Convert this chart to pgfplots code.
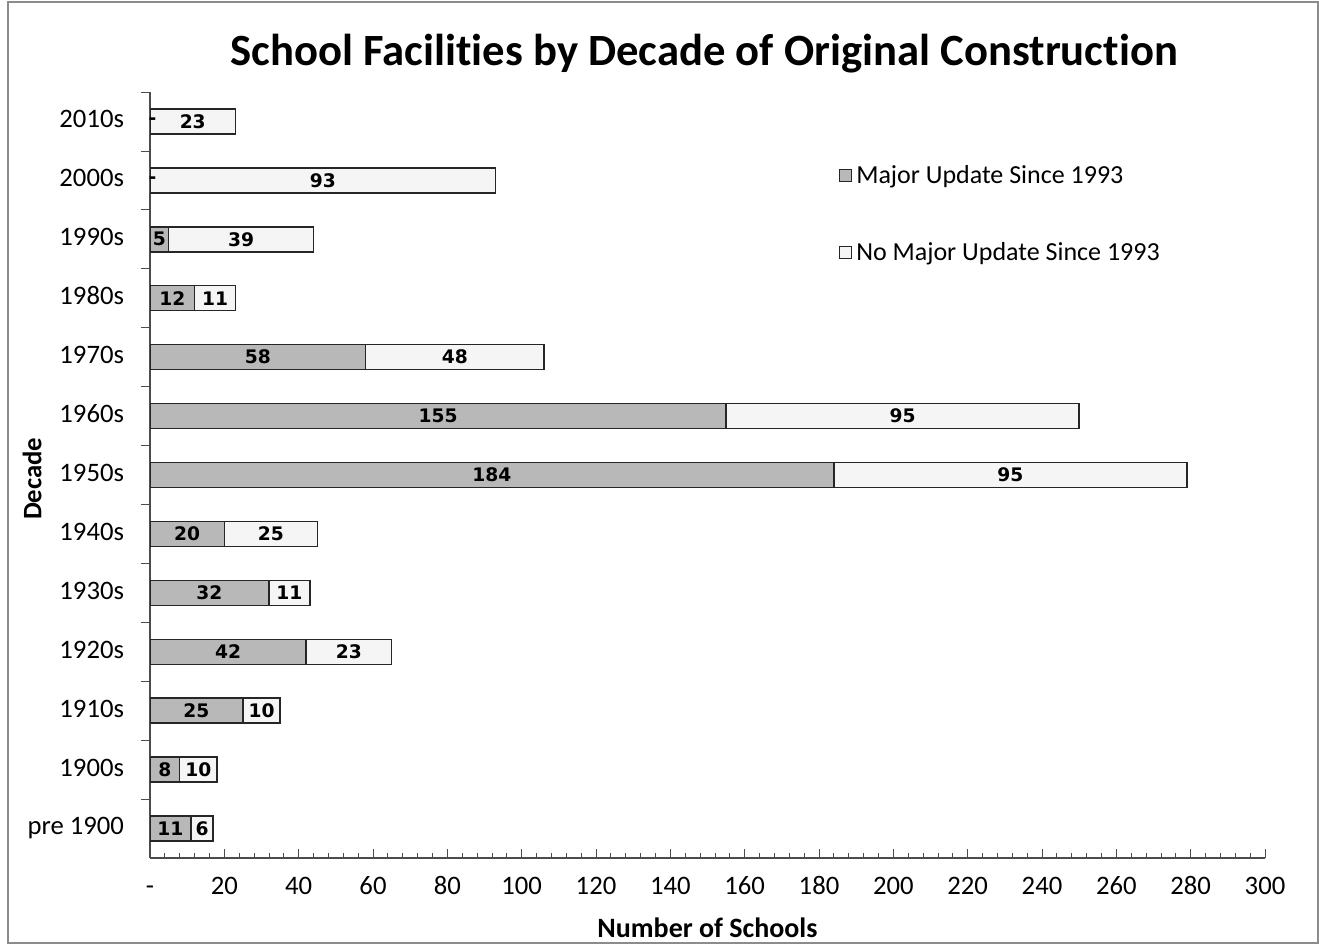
\documentclass[border=0pt]{standalone}
\usepackage{fontspec}
\setmainfont{Carlito}[Ligatures=NoCommon]
\newfontfamily\labfont{DejaVu Sans}
\usepackage{pgfplots}
\pgfplotsset{compat=1.18}
\usepackage{pgfplotstable}

\pgfplotstableread{
y maj no majlab nolab
0 11 6 11 6
1 8 10 8 10
2 25 10 25 10
3 42 23 42 23
4 32 11 32 11
5 20 25 20 25
6 184 95 184 95
7 155 95 155 95
8 58 48 58 48
9 12 11 12 11
10 5 39 5 39
11 0 93 - 93
12 0 23 - 23
}\data

\definecolor{majgray}{gray}{0.72}
\definecolor{nogray}{gray}{0.96}

\pgfplotsset{
  common/.style={
    scale only axis, width=836.25pt, height=574.5pt,
    xmin=0, xmax=300, ymin=-0.5, ymax=12.5,
  }
}

\begin{document}
\begin{tikzpicture}
\useasboundingbox (-112.5pt,-66.75pt) rectangle (876.75pt,643.5pt);
\draw[black!45, line width=0.8pt] (-106.5pt,-63.75pt) rectangle (876pt,642pt);
\begin{axis}[
  common,
  xbar stacked, bar width=18.75pt,
  axis lines*=left,
  axis line style={black!70, line width=0.8pt},
  tick align=inside,
  xtick={0,20,...,300},
  xticklabels={-,20,40,60,80,100,120,140,160,180,200,220,240,260,280,300},
  minor x tick num=4,
  major tick length=7pt, minor tick length=4pt,
  xtick style={black!70, line width=0.6pt},
  ytick={0.5,1.5,...,12.5},
  yticklabels={pre 1900,1900s,1910s,1920s,1930s,1940s,1950s,1960s,1970s,1980s,1990s,2000s,2010s},
  ytick style={black!70, line width=0.6pt, xshift=-7pt},
  typeset ticklabels with strut,
  y tick label style={yshift=-22.09pt, xshift=-16pt, font=\fontsize{20}{24}\selectfont},
  x tick label style={yshift=-7pt, font=\fontsize{20}{24}\selectfont},
  xlabel={Number of Schools},
  xlabel style={at={(axis description cs:0.5,-0.0914)}, anchor=center, font=\bfseries\fontsize{21}{24}\selectfont},
  ylabel={Decade},
  ylabel style={at={(axis description cs:-0.1058,0.495)}, anchor=center, rotate=0, font=\bfseries\fontsize{20}{24}\selectfont},
  title={School Facilities by Decade of Original Construction},
  title style={at={(axis description cs:0.497,1.04)}, anchor=center, font=\bfseries\fontsize{33.5}{38}\selectfont},
  legend style={at={(0.618,0.91)}, anchor=north west, draw=none, fill=none,
    font=\fontsize{19.5}{22}\selectfont, row sep=37pt, inner sep=0pt},
  legend cell align=left,
  legend image code/.code={\draw[#1, line width=0.7pt] (0pt,-4.5pt) rectangle (9pt,4.5pt);},
  legend style={nodes={inner sep=3pt}},
]
\addplot[fill=majgray, draw=black!85, line width=1.1pt]
  table[x=maj, y=y] {\data};
\addplot[fill=nogray, draw=black!85, line width=1.1pt]
  table[x=no, y=y] {\data};
\legend{Major Update Since 1993, No Major Update Since 1993}
\end{axis}
\begin{axis}[
  common, hide axis,
  nodes near coords,
  point meta=explicit symbolic,
  every node near coord/.append style={anchor=center, inner sep=0pt, font=\labfont\bfseries\fontsize{14}{15}\selectfont},
]
\addplot[only marks, mark=none, draw=none]
  table[x expr={max(\thisrow{maj}/2,0.7)}, y=y, meta=majlab] {\data};
\addplot[only marks, mark=none, draw=none]
  table[x expr={\thisrow{maj}+\thisrow{no}/2}, y=y, meta=nolab] {\data};
\end{axis}
\end{tikzpicture}
\end{document}
